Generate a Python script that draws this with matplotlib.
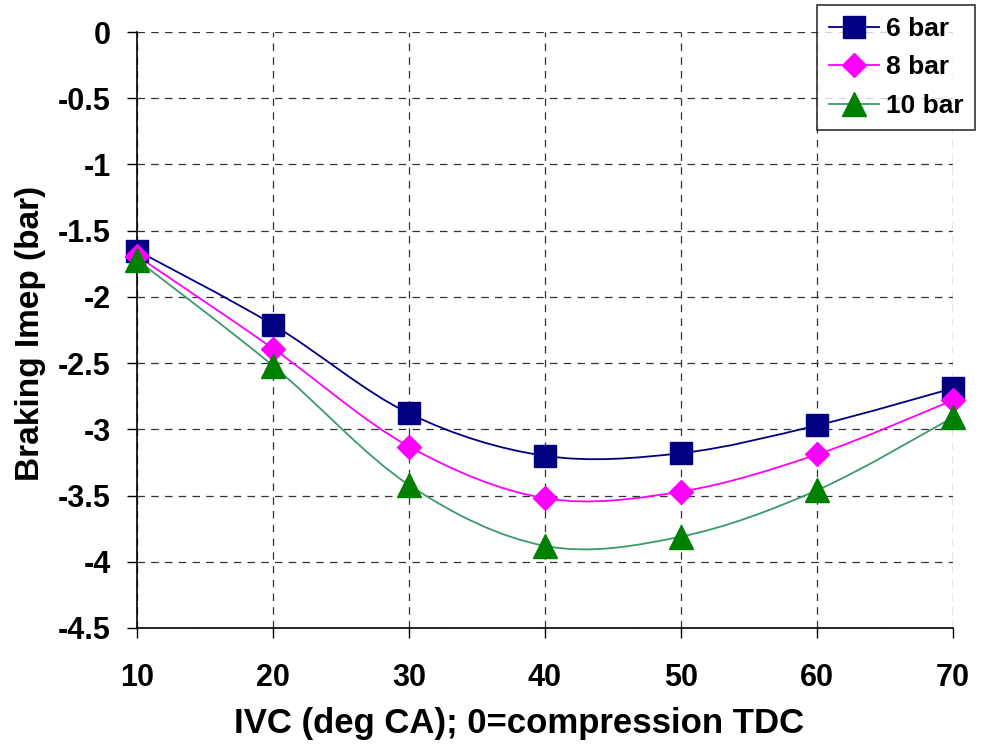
import matplotlib
matplotlib.use("Agg")
import matplotlib.pyplot as plt
import numpy as np
from matplotlib.path import Path
from matplotlib.patches import PathPatch
from matplotlib.lines import Line2D

plt.rcParams['font.family'] = ['Liberation Sans', 'DejaVu Sans']
plt.rcParams['font.weight'] = 'bold'

ivc = [10, 20, 30, 40, 50, 60, 70]
bar6 = [-1.65, -2.21, -2.88, -3.20, -3.18, -2.97, -2.69]
bar8 = [-1.69, -2.39, -3.13, -3.52, -3.47, -3.19, -2.78]
bar10 = [-1.72, -2.52, -3.42, -3.88, -3.81, -3.46, -2.91]
series_labels = ['6 bar', '8 bar', '10 bar']
xticks = [10, 20, 30, 40, 50, 60, 70]
yticks = [0, -0.5, -1, -1.5, -2, -2.5, -3, -3.5, -4, -4.5]

fig = plt.figure(figsize=(9.82, 7.51), dpi=100)
ax = fig.add_axes([137/982, 1-628/751, (953-137)/982, (628-32)/751])


def smooth_path(x, y):
    pts = np.column_stack([x, y]).astype(float)
    n = len(pts)
    verts = [pts[0]]
    codes = [Path.MOVETO]
    for i in range(n - 1):
        p0 = pts[i - 1] if i > 0 else pts[i]
        p1 = pts[i]
        p2 = pts[i + 1]
        p3 = pts[i + 2] if i + 2 < n else pts[i + 1]
        c1 = p1 + (p2 - p0) / 6.0
        c2 = p2 - (p3 - p1) / 6.0
        verts += [c1, c2, p2]
        codes += [Path.CURVE4] * 3
    return Path(verts, codes)


styles = [
    dict(data=bar6, lc='#000080', mc='#000080', marker='s', ms=16.5),
    dict(data=bar8, lc='#FF00FF', mc='#FF00FF', marker='D', ms=12.5),
    dict(data=bar10, lc='#3A9A6A', mc='#008000', marker='^', ms=17),
]

handles = []
for st, lab in zip(styles, series_labels):
    p = smooth_path(ivc, st['data'])
    ax.add_patch(PathPatch(p, fill=False, edgecolor=st['lc'], lw=1.3, zorder=3))
    ax.plot(ivc, st['data'], linestyle='none', marker=st['marker'], ms=st['ms'],
            mfc=st['mc'], mec=st['mc'], zorder=4, clip_on=False)
    handles.append(Line2D([], [], color=st['lc'], lw=1.3, marker=st['marker'],
                          ms=st['ms'], mfc=st['mc'], mec=st['mc']))

ax.set_xlim(10, 70)
ax.set_ylim(-4.5, 0)
ax.set_xticks(xticks)
ax.set_yticks(yticks)
ax.set_yticklabels([('%g' % v) for v in yticks])
ax.tick_params(axis='both', labelsize=22, direction='out', length=7, width=1)
ax.tick_params(axis='y', pad=12)
ax.tick_params(axis='x', pad=18)
for lab in ax.get_xticklabels() + ax.get_yticklabels():
    lab.set_fontweight('bold')

ax.grid(True, color='#333333', linestyle=(0, (6, 5)), linewidth=0.9)
ax.set_axisbelow(True)
for s in ['top', 'right']:
    ax.spines[s].set_visible(False)
ax.spines['left'].set_linewidth(1.2)
ax.spines['bottom'].set_linewidth(1.2)

ax.set_xlabel('IVC (deg CA); 0=compression TDC', fontsize=25, fontweight='bold')
ax.xaxis.set_label_coords((519 - 137) / 816, -(724 - 628) / 596)
ax.xaxis.label.set_va('center')
ax.set_ylabel('Braking Imep (bar)', fontsize=24, fontweight='bold')
ax.yaxis.set_label_coords(-(137 - 31) / 816, (628 - 333) / 596)
ax.yaxis.label.set_va('center')

leg = fig.legend(handles, series_labels, loc='upper right',
                 bbox_to_anchor=(975/982, 1-5/751),
                 prop={'weight': 'bold', 'size': 19}, frameon=True,
                 fancybox=False, edgecolor='black', handlelength=1.9,
                 handletextpad=0.25, borderpad=0.45, labelspacing=0.55,
                 borderaxespad=0)
leg.get_frame().set_linewidth(1.2)

fig.savefig('out.png', dpi=100)
